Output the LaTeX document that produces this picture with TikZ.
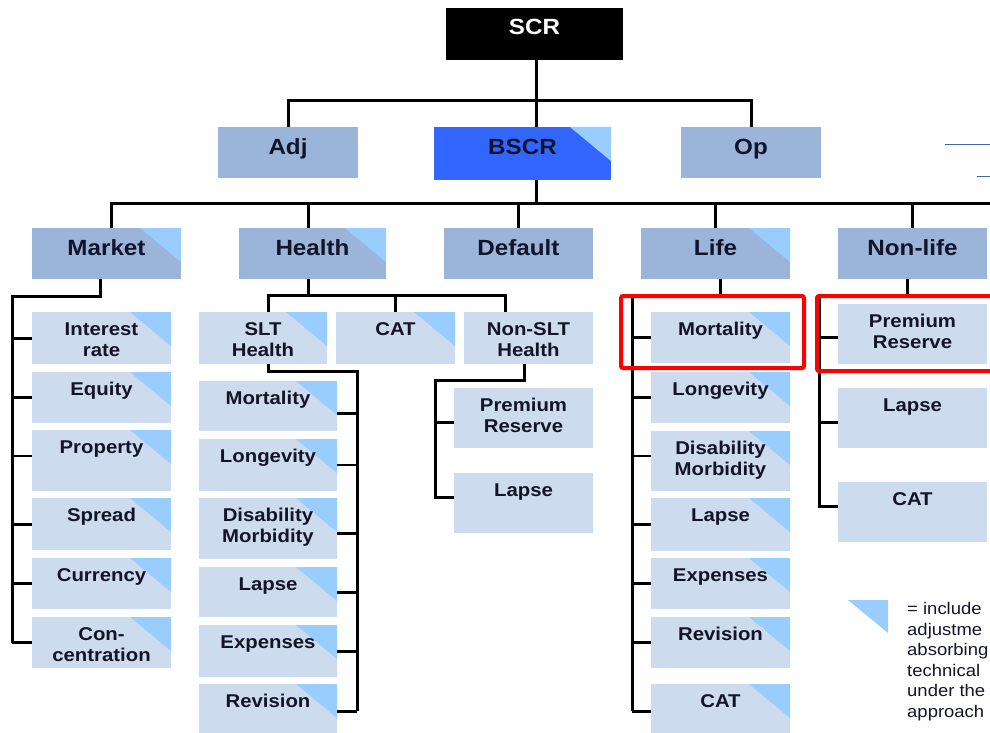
\documentclass[tikz,border=0pt]{standalone}
\usepackage{fontspec}
\setmainfont{Liberation Sans}[FakeStretch=1.1]
\definecolor{dbox}{RGB}{155,180,218}
\definecolor{lbox}{RGB}{204,219,238}
\definecolor{trifill}{RGB}{153,204,255}
\definecolor{bscrc}{RGB}{51,102,255}
\definecolor{txt}{RGB}{20,20,40}
\definecolor{noteblue}{RGB}{70,100,170}
\tikzset{
  boxbase/.style={draw=none, inner sep=0pt, outer sep=0pt, rectangle},
  lbl/.style={font=\bfseries\fontsize{18.5}{21}\selectfont, text=txt, align=center, inner sep=0pt},
  lbltwolines/.style={lbl, yshift=-21pt},
  lbltwo/.style={font=\bfseries\fontsize{22}{24}\selectfont, text=txt, align=center, inner sep=0pt, yshift=-4pt},
  conn/.style={line width=3pt, draw=black},
  thinconn/.style={line width=1.2pt, draw=black},
  redbox/.style={draw=red, line width=4pt, rounded corners=2pt},
  legtxt/.style={font=\fontsize{16.8}{20.5}\selectfont, text=txt, align=left, inner sep=0pt}
}
% name, x1, y1, x2, y2, fill, triangle, label style, text
\newcommand\mybox[9]{%
  \node[boxbase, fill=#6, minimum width={(#4-#2)*1pt}, minimum height={(#5-#3)*1pt}] (#1) at ({(#2+#4)/2},{(#3+#5)/2}) {};
  \ifnum#7=1\relax
    \fill[trifill] ([xshift=-41pt]#1.north east) -- (#1.north east) -- ([yshift=-34pt]#1.north east) -- cycle;
  \fi
  \node[#8, anchor=base] (#1-t) at ([yshift=-23pt]#1.north) {#9};
}
\begin{document}
\begin{tikzpicture}[x=1pt, y=-1pt]
\useasboundingbox (0,0) rectangle (990,733);
\clip (0,0) rectangle (990,733);

% level 0 / 1
\mybox{scr}{446}{8}{623}{60}{black}{0}{lbltwo,text=white}{SCR}
\mybox{adj}{218}{127}{358}{178}{dbox}{0}{lbltwo}{Adj}
\mybox{bscr}{434}{127}{611}{180}{bscrc}{1}{lbltwo}{BSCR}
\mybox{op}{681}{127}{821}{178}{dbox}{0}{lbltwo}{Op}

% level 2
\mybox{market}{32}{228}{181}{279}{dbox}{1}{lbltwo}{Market}
\mybox{health}{239}{228}{386}{279}{dbox}{1}{lbltwo}{Health}
\mybox{default}{444}{228}{593}{279}{dbox}{0}{lbltwo}{Default}
\mybox{life}{641}{228}{790}{279}{dbox}{1}{lbltwo}{Life}
\mybox{nonlife}{838}{228}{987}{279}{dbox}{0}{lbltwo}{Non-life}

% market
\mybox{ir}{32}{312}{171}{364}{lbox}{1}{lbltwolines}{Interest\\rate}
\mybox{eq}{32}{372}{171}{423}{lbox}{1}{lbl}{Equity}
\mybox{prop}{32}{430}{171}{491}{lbox}{1}{lbl}{Property}
\mybox{spread}{32}{498}{171}{550}{lbox}{1}{lbl}{Spread}
\mybox{cur}{32}{558}{171}{609}{lbox}{1}{lbl}{Currency}
\mybox{conc}{32}{617}{171}{668}{lbox}{1}{lbltwolines}{Con-\\centration}

% health
\mybox{slt}{199}{312}{327}{364}{lbox}{1}{lbltwolines}{SLT\\Health}
\mybox{hcat}{336}{312}{455}{364}{lbox}{1}{lbl}{CAT}
\mybox{nslt}{464}{312}{593}{364}{lbox}{0}{lbltwolines}{Non-SLT\\Health}
\mybox{hmort}{199}{381}{337}{431}{lbox}{1}{lbl}{Mortality}
\mybox{hlong}{199}{439}{337}{491}{lbox}{1}{lbl}{Longevity}
\mybox{hdis}{199}{498}{337}{559}{lbox}{1}{lbltwolines}{Disability\\Morbidity}
\mybox{hlapse}{199}{567}{337}{617}{lbox}{1}{lbl}{Lapse}
\mybox{hexp}{199}{625}{337}{677}{lbox}{1}{lbl}{Expenses}
\mybox{hrev}{199}{684}{337}{735}{lbox}{1}{lbl}{Revision}
\mybox{npr}{454}{388}{593}{448}{lbox}{0}{lbltwolines}{Premium\\Reserve}
\mybox{nlapse}{454}{473}{593}{533}{lbox}{0}{lbl}{Lapse}

% life
\mybox{lmort}{651}{312}{790}{363}{lbox}{1}{lbl}{Mortality}
\mybox{llong}{651}{372}{790}{423}{lbox}{1}{lbl}{Longevity}
\mybox{ldis}{651}{431}{790}{491}{lbox}{1}{lbltwolines}{Disability\\Morbidity}
\mybox{llapse}{651}{498}{790}{551}{lbox}{1}{lbl}{Lapse}
\mybox{lexp}{651}{558}{790}{609}{lbox}{1}{lbl}{Expenses}
\mybox{lrev}{651}{617}{790}{668}{lbox}{1}{lbl}{Revision}
\mybox{lcat}{651}{684}{790}{735}{lbox}{1}{lbl}{CAT}

% non-life
\mybox{nlpr}{838}{304}{987}{364}{lbox}{0}{lbltwolines}{Premium\\Reserve}
\mybox{nllapse}{838}{388}{987}{448}{lbox}{0}{lbl}{Lapse}
\mybox{nlcat}{838}{482}{987}{542}{lbox}{0}{lbl}{CAT}

% connectors level 0-2
\coordinate (b1) at (536,101);
\draw[conn] (b1 |- scr.south) -- (b1 |- bscr.north);
\draw[conn] (adj.north) |- (b1) -| (op.north);
\coordinate (b2) at (536,203);
\coordinate (b2r) at (992,203);
\draw[conn] (b2 |- bscr.south) -- (b2);
\draw[conn] ([xshift=4.5pt]market.north) |- (b2r);
\draw[conn] ([xshift=-4.5pt]health.north) -- ([xshift=-4.5pt]health.north |- b2);
\draw[conn] (default.north) -- (default.north |- b2);
\draw[conn] (life.north) -- (life.north |- b2);
\draw[conn] (nonlife.north) -- (nonlife.north |- b2);

% market
\coordinate (mk) at (12,296);
\draw[conn] ([xshift=-6pt]market.south) |- (mk) -- (mk |- conc.west);
\draw[conn] (ir.west) -- (ir.west -| mk);
\draw[conn] (eq.west) -- (eq.west -| mk);
\draw[thinconn] ([yshift=4.5pt]prop.west) -- ([yshift=4.5pt]prop.west -| mk);
\draw[conn] (spread.west) -- (spread.west -| mk);
\draw[conn] (cur.west) -- (cur.west -| mk);
\draw[conn] (conc.west) -- (conc.west -| mk);

% health
\coordinate (hb) at (308,295);
\coordinate (hbl) at (268,295);
\coordinate (hbr) at (505,295);
\draw[conn] ([xshift=-4.5pt]health.south) -- (hb);
\draw[conn] (hbl |- slt.north) -- (hbl) -- (hbr) -- (hbr |- nslt.north);
\draw[conn] (hcat.north) -- (hcat.north |- hb);

\coordinate (sb) at (357,371);
\draw[conn] ([xshift=5pt]slt.south) |- (sb) -- ([yshift=-1.5pt]sb |- hrev.east);
\draw[conn] ([yshift=-7pt]hmort.east) -- ([yshift=-7pt]hmort.east -| sb);
\draw[thinconn] (hlong.east) -- (hlong.east -| sb);
\draw[conn] ([yshift=-4.5pt]hdis.east) -- ([yshift=-4.5pt]hdis.east -| sb);
\draw[conn] (hlapse.east) -- (hlapse.east -| sb);
\draw[conn] (hexp.east) -- (hexp.east -| sb);
\draw[conn] ([yshift=-1.5pt]hrev.east) -- ([yshift=-1.5pt]hrev.east -| sb);

\coordinate (nb) at (435,380);
\coordinate (nbe) at (435,497);
\draw[conn] ([xshift=-4.5pt]nslt.south) |- (nb) -- (nbe) -- (nbe -| nlapse.west);
\draw[conn] ([yshift=-4pt]npr.west) -- ([yshift=-4pt]npr.west -| nb);

% life
\coordinate (lb) at (632,296);
\draw[conn] ([xshift=5pt]life.south) |- (lb) -- ([yshift=-1.5pt]lb |- lcat.west);
\draw[conn] (lmort.west) -- (lmort.west -| lb);
\draw[conn] (llong.west) -- (llong.west -| lb);
\draw[thinconn] ([yshift=5pt]ldis.west) -- ([yshift=5pt]ldis.west -| lb);
\draw[conn] (llapse.west) -- (llapse.west -| lb);
\draw[conn] (lexp.west) -- (lexp.west -| lb);
\draw[conn] (lrev.west) -- (lrev.west -| lb);
\draw[conn] ([yshift=-1.5pt]lcat.west) -- ([yshift=-1.5pt]lcat.west -| lb);

% non-life
\coordinate (nlb) at (819,296);
\coordinate (nle) at (819,506);
\draw[conn] ([xshift=-5.5pt]nonlife.south) |- (nlb) -- (nle) -- (nle -| nlcat.west);
\draw[conn] ([yshift=-3pt]nlpr.west) -- ([yshift=-3pt]nlpr.west -| nlb);
\draw[conn] ([yshift=-4pt]nllapse.west) -- ([yshift=-4pt]nllapse.west -| nlb);

% red highlight frames
\draw[redbox] (621,296) rectangle (804,368);
\draw[redbox] (1000,296) -- (817,296) -- (817,371) -- (1000,371);

% faint notes top right
\draw[noteblue, line width=1pt] (945,144) -- (992,144);
\draw[noteblue, line width=1pt] (977,176) -- (992,176);

% legend
\fill[trifill] (848,600) -- (888,600) -- (888,633) -- cycle;
\node[legtxt, anchor=base west] (leg) at (907,717) {= include\\adjustme\\absorbing\\technical\\under the\\approach};
\end{tikzpicture}
\end{document}
